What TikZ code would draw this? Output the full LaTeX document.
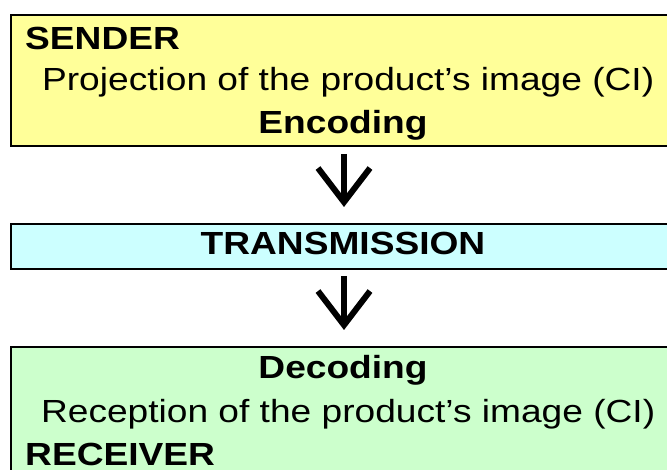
\documentclass[tikz,border=0pt]{standalone}
\usepackage{fontspec}
\setmainfont[FakeStretch=1.16]{Liberation Sans}
\usetikzlibrary{arrows.meta,positioning}

\definecolor{senderyellow}{HTML}{FFFF99}
\definecolor{transcyan}{HTML}{CCFFFF}
\definecolor{receivergreen}{HTML}{CCFFCC}

\begin{document}
\begin{tikzpicture}[
			x=1pt, y=-1pt,
			stage/.style={draw=black, line width=2pt, minimum width=666pt, inner sep=0pt, anchor=north west},
			stagetext/.style={font=\fontsize{32}{40}\selectfont, inner sep=0pt, anchor=base},
			flow/.style={line width=6pt, -{Straight Barb[length=34pt,width=52pt,sharp]}}
			]
				\useasboundingbox (0,0) rectangle (667,470);
				\clip (0,0) rectangle (667,470);

				% the three stages
				\node[stage, fill=senderyellow, minimum height=131pt] (sender) at (10,14) {};
				\node[stage, fill=transcyan, minimum height=45pt] (trans) at (10,223) {};
				\node[stage, fill=receivergreen, minimum height=131pt] (receiver) at (10,346) {};

				% texts, placed by baseline
				\node[stagetext, anchor=base west] (sendername) at (25,50) {\bfseries SENDER};
				\node[stagetext] (projection) at (343,91) {\ Projection of the product’s image (CI)};
				\node[stagetext] (encoding) at (343,134) {\bfseries Encoding};

				\node[stagetext] (transmission) at (343,255) {\bfseries TRANSMISSION};

				\node[stagetext] (decoding) at (343,379) {\bfseries Decoding};
				\node[stagetext] (reception) at (343,422) {\ Reception of the product’s image (CI)};
				\node[stagetext, anchor=base west] (receivername) at (25,465) {\bfseries RECEIVER};

				\draw[flow] ([yshift=-7pt]sender.south) -- ([yshift=16pt]trans.north);
				\draw[flow] ([yshift=-6pt]trans.south) -- ([yshift=16pt]receiver.north);

			\end{tikzpicture}
\end{document}
